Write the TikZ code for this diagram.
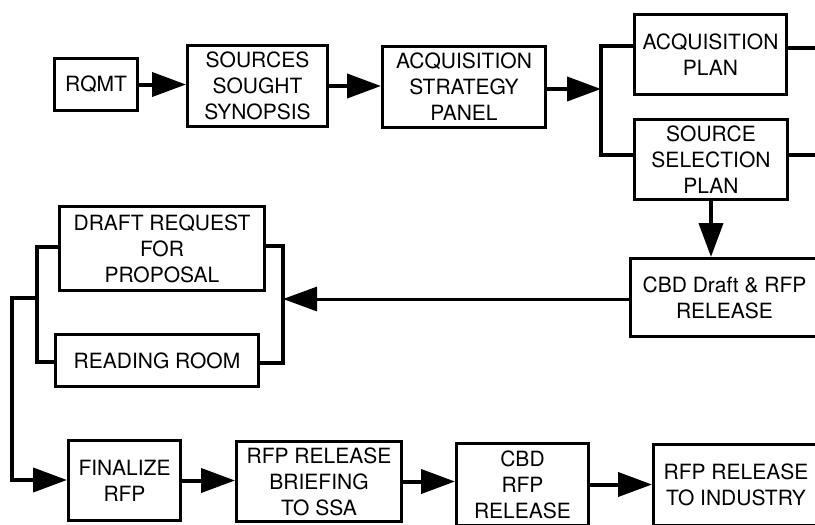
\documentclass[tikz,border=0pt]{standalone}
\usepackage{fontspec}
\setmainfont{TeX Gyre Heros}
\usetikzlibrary{arrows.meta}

\begin{document}
\begin{tikzpicture}[x=1pt,y=-1pt]

      \useasboundingbox (0,0) rectangle (815,525);
      \clip (0,0) rectangle (815,525);

      \begin{scope}[every node/.style={draw,line width=3pt,align=center,inner sep=0pt,
          font=\fontsize{21}{26}\selectfont}]
        \node[minimum width=83pt,minimum height=52pt]  (1)  at (96,84.5)    {RQMT};
        \node[minimum width=140pt,minimum height=81pt] (2)  at (257.5,86)   {SOURCES\\SOUGHT\\SYNOPSIS};
        \node[minimum width=163pt,minimum height=81pt] (3)  at (464,87)     {ACQUISITION\\STRATEGY\\PANEL};
        \node[minimum width=152pt,minimum height=80pt] (4)  at (710.5,54.5) {ACQUISITION\\PLAN};
        \node[minimum width=153pt,minimum height=80pt] (5)  at (711,159.5)  {SOURCE\\SELECTION\\PLAN};
        \node[minimum width=188pt,minimum height=78pt] (6)  at (724.5,297.5) {CBD Draft \& RFP\\RELEASE};
        \node[minimum width=205pt,minimum height=84pt] (7)  at (162,248.5)  {DRAFT REQUEST\\FOR\\PROPOSAL};
        \node[minimum width=203pt,minimum height=52pt] (8)  at (157,360.5)  {READING ROOM};
        \node[minimum width=112pt,minimum height=80pt] (9)  at (124.5,480.5) {FINALIZE\\RFP};
        \node[minimum width=165pt,minimum height=80pt] (10) at (319,481.5)  {RFP RELEASE\\BRIEFING\\TO SSA};
        \node[minimum width=132pt,minimum height=82pt] (11) at (522.5,484.5) {CBD\\RFP\\RELEASE};
        \node[minimum width=165pt,minimum height=81pt] (12) at (736,485)    {RFP RELEASE\\TO INDUSTRY};
      \end{scope}

      \coordinate (a0) at (601,89);
      \coordinate (a1) at (601,46);
      \coordinate (a2) at (601,155);
      \coordinate (b1) at (818,48);
      \coordinate (b2) at (818,155);
      \coordinate (c0) at (283,299);
      \coordinate (c1) at (283,246);
      \coordinate (c2) at (283,363);
      \coordinate (d0) at (37,298);
      \coordinate (d1) at (37,247);
      \coordinate (d2) at (37,362);
      \coordinate (e1) at (12,298);
      \coordinate (e2) at (12,480);

      \begin{scope}[line width=4pt]
        \draw (4.west |- a1) -- (a1) -- (a2) -- (5.west |- a2);
        \draw (4.east |- b1) -- (b1) -- (b2) -- (5.east |- b2);
        \draw (7.east |- c1) -- (c1) -- (c2) -- (8.east |- c2);
        \draw (7.west |- d1) -- (d1) -- (d2) -- (8.west |- d2);

        \begin{scope}[-{Triangle[length=34pt,width=24pt]}]
          \draw (1.east) -- (1.east -| 2.west);
          \draw (2.east) -- (2.east -| 3.west);
          \draw (3.east |- a0) -- (a0);
          \draw (5.south) -- (5.south |- 6.north);
          \draw[line width=3pt] (6.west |- c0) -- (c0);
          \draw (d0) -- (e1) -- (e2) -- (9.west |- e2);
          \draw (9.east) -- (9.east -| 10.west);
          \draw (10.east) -- (10.east -| 11.west);
          \draw (11.east) -- (11.east -| 12.west);
        \end{scope}
      \end{scope}

    \end{tikzpicture}
\end{document}
